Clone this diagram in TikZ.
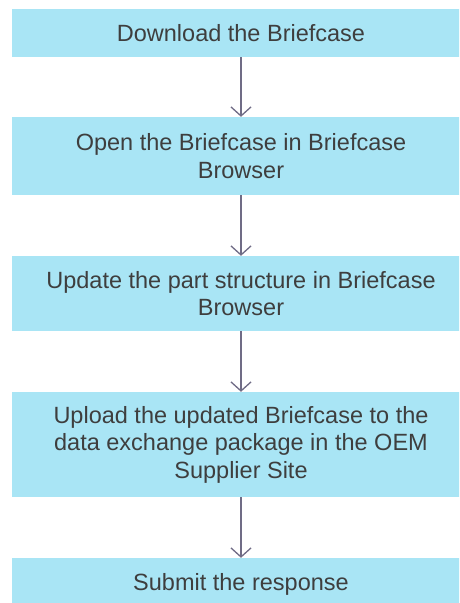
\documentclass[tikz,border=0pt]{standalone}
\usepackage{fontspec}
\setmainfont{Liberation Sans}
\usetikzlibrary{arrows.meta}
\definecolor{boxfill}{HTML}{A9E5F5}
\definecolor{txt}{HTML}{3E3E3E}
\definecolor{arr}{HTML}{706C86}
\begin{document}
\begin{tikzpicture}[x=1pt,y=-1pt,
  stepbox/.style={rectangle, fill=boxfill, draw=none, minimum width=458pt,
    inner sep=0pt, align=center, text=txt,
    font={\fontsize{23.5}{27.5}\selectfont}},
  flow/.style={draw=arr, line width=1.3pt,
    -{Straight Barb[length=9pt,width=20pt,line width=1.3pt]}}]
\clip (0,0) rectangle (459,603);
\fill[white] (0,0) rectangle (459,603);
\node[stepbox, minimum height=48pt] (b1) at (241,33) {Download the Briefcase};
\node[stepbox, minimum height=78pt] (b2) at (241,156) {Open the Briefcase in Briefcase\\Browser};
\node[stepbox, minimum height=75pt] (b3) at (241,293.5) {Update the part structure in Briefcase\\Browser};
\node[stepbox, minimum height=105pt] (b4) at (241,444.5) {Upload the updated Briefcase to the\\data exchange package in the OEM\\Supplier Site};
\node[stepbox, minimum height=52pt] (b5) at (241,584) {Submit the response};
\draw[flow] (b1) -- (b2);
\draw[flow] (b2) -- (b3);
\draw[flow] (b3) -- (b4);
\draw[flow] (b4) -- (b5);
\end{tikzpicture}
\end{document}
